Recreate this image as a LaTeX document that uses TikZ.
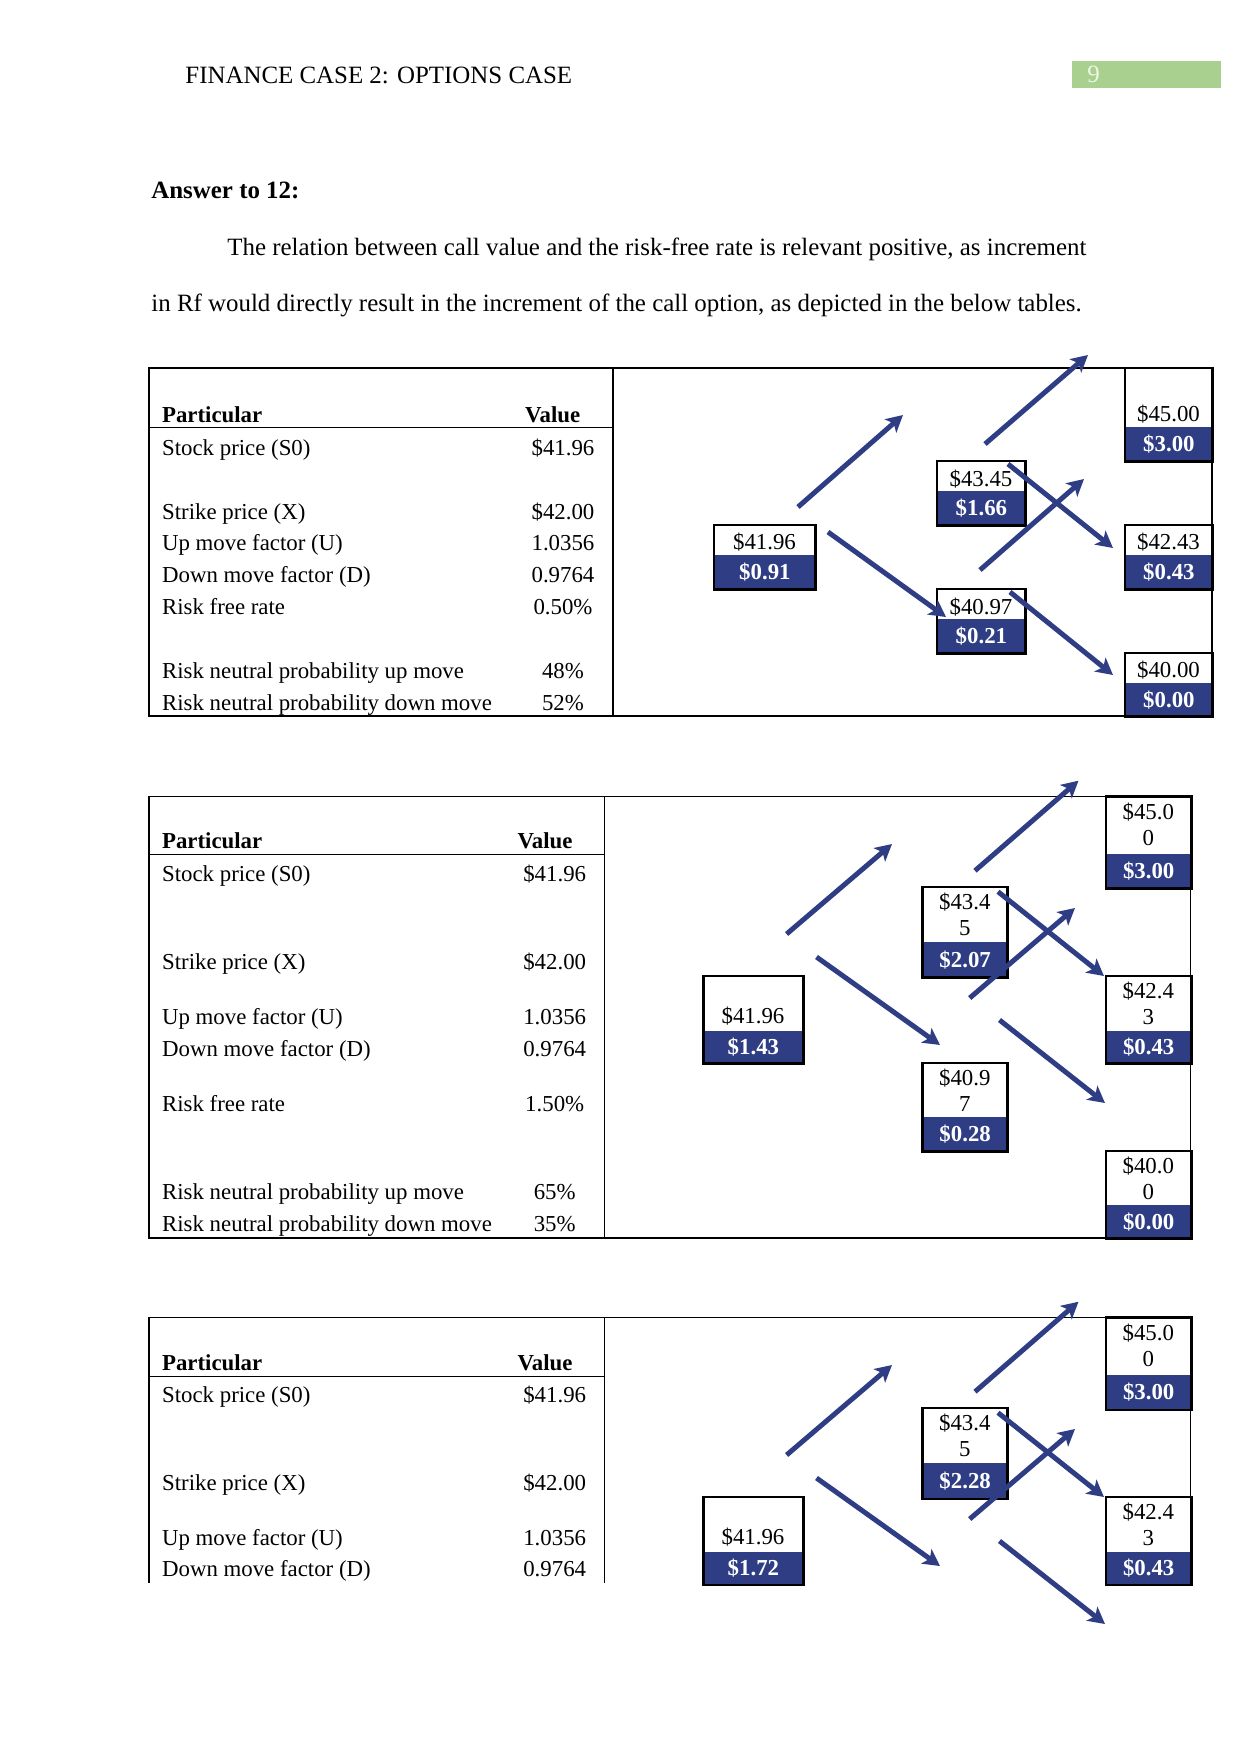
\documentclass[tikz,border=0pt]{standalone}
\usepackage{fontspec}
\setmainfont{Liberation Serif}
\usepackage{tikz}
\usetikzlibrary{arrows.meta}
\definecolor{navy}{HTML}{2F3E84}
\definecolor{pagegreen}{HTML}{A9D08E}
\definecolor{pagenum}{HTML}{EEF7E6}
\tikzset{
  bodytext/.style={font=\fontsize{12}{14}\selectfont, anchor=base west, inner sep=0pt},
  celltext/.style={font=\fontsize{11}{13}\selectfont, anchor=base west, inner sep=0pt},
  cellval/.style={font=\fontsize{11}{13}\selectfont, anchor=base, inner sep=0pt},
  headtext/.style={font=\bfseries\fontsize{11}{13}\selectfont, inner sep=0pt},
  tblline/.style={draw=black, line width=0.7pt},
  boxline/.style={draw=black, line width=1.3pt},
  price/.style={font=\fontsize{11}{12.5}\selectfont, align=center, inner sep=0pt},
  payoff/.style={fill=navy, text=white, font=\bfseries\fontsize{11}{13}\selectfont, inner sep=0pt, anchor=north west},
  move/.style={draw=navy, line width=2.4pt, -{Stealth[length=8pt,width=8.5pt,inset=2pt]}}
}

\begin{document}
\begin{tikzpicture}[x=0.16933mm, y=-0.16933mm]
\useasboundingbox (0,0) rectangle (1241,1754);
% ---- page head and text ----
\node[bodytext] (title) at (185,83) {FINANCE CASE 2: OPTIONS CASE};
\fill[pagegreen] (1072,61) rectangle (1221,88);
\node[bodytext, text=pagenum] (pageno) at (1087,82) {9};
\node[bodytext, font=\bfseries\fontsize{12}{14}\selectfont] (answer) at (151,198.3) {Answer to 12:};
\node[bodytext] (para1) at (227,255) {The relation between call value and the risk-free rate is relevant positive, as increment};
\node[bodytext] (para2) at (151,311.7) {in Rf would directly result in the increment of the call option, as depicted in the below tables.};

% ---- table 1: Rf 0.50% ----
\draw[tblline] (149,368) rectangle (1212,716);
\draw[tblline] (613,368) -- (613,716);
\draw[tblline] (149,427.7) -- (613,427.7);
\node[headtext, anchor=base west] (t1h1) at (161.7,422) {Particular};
\node[headtext, anchor=base] (t1h2) at (552.7,422) {Value};
\node[celltext] (t1r1) at (161.7,455.7) {Stock price (S0)};
\node[cellval] (t1v1) at (563,455.7) {\$41.96};
\node[celltext] (t1r2) at (161.7,519) {Strike price (X)};
\node[cellval] (t1v2) at (563,519) {\$42.00};
\node[celltext] (t1r3) at (161.7,550.7) {Up move factor (U)};
\node[cellval] (t1v3) at (563,550.7) {1.0356};
\node[celltext] (t1r4) at (161.7,582.7) {Down move factor (D)};
\node[cellval] (t1v4) at (563,582.7) {0.9764};
\node[celltext] (t1r5) at (161.7,614.3) {Risk free rate};
\node[cellval] (t1v5) at (563,614.3) {0.50\%};
\node[celltext] (t1r6) at (161.7,678.3) {Risk neutral probability up move};
\node[cellval] (t1v6) at (563,678.3) {48\%};
\node[celltext] (t1r7) at (161.7,710.7) {Risk neutral probability down move};
\node[cellval] (t1v7) at (563,710.7) {52\%};
% tree 1
\node[price, anchor=base] (a1p) at (764.5,549.5) {\$41.96};
\node[payoff, minimum width=101*0.16933mm, minimum height=34*0.16933mm] (a1v) at (714,555) {\$0.91};
\draw[boxline] (714,525) rectangle (a1v.south east);
\node[price, anchor=base] (b1p) at (981,486) {\$43.45};
\node[payoff, minimum width=88*0.16933mm, minimum height=34*0.16933mm] (b1v) at (937,491) {\$1.66};
\draw[boxline] (937,461) rectangle (b1v.south east);
\node[price, anchor=base] (c1p) at (981,614) {\$40.97};
\node[payoff, minimum width=88*0.16933mm, minimum height=34*0.16933mm] (c1v) at (937,619) {\$0.21};
\draw[boxline] (937,589) rectangle (c1v.south east);
\node[price, anchor=base] (d1p) at (1168.5,421) {\$45.00};
\node[payoff, minimum width=87*0.16933mm, minimum height=34*0.16933mm] (d1v) at (1125,427) {\$3.00};
\draw[boxline] (1125,368) rectangle (d1v.south east);
\node[price, anchor=base] (e1p) at (1168.5,549.5) {\$42.43};
\node[payoff, minimum width=87*0.16933mm, minimum height=34*0.16933mm] (e1v) at (1125,555) {\$0.43};
\draw[boxline] (1125,525) rectangle (e1v.south east);
\node[price, anchor=base] (f1p) at (1168.5,677.5) {\$40.00};
\node[payoff, minimum width=87*0.16933mm, minimum height=33*0.16933mm] (f1v) at (1125,683) {\$0.00};
\draw[boxline] (1125,653) rectangle (f1v.south east);
\coordinate (a1u0) at (798,507); \coordinate (a1u1) at (903,415);
\coordinate (a1d0) at (828,532); \coordinate (a1d1) at (946,617);
\coordinate (b1u0) at (985,444); \coordinate (b1u1) at (1088,355);
\coordinate (b1d0) at (1008,464); \coordinate (b1d1) at (1113,548);
\coordinate (c1u0) at (980,570); \coordinate (c1u1) at (1084,479);
\coordinate (c1d0) at (1010,592); \coordinate (c1d1) at (1113,675);
\draw[move] (a1u0) -- (a1u1);
\draw[move] (a1d0) -- (a1d1);
\draw[move] (b1u0) -- (b1u1);
\draw[move] (b1d0) -- (b1d1);
\draw[move] (c1u0) -- (c1u1);
\draw[move] (c1d0) -- (c1d1);

% ---- table 2: Rf 1.50% ----
\draw[tblline] (149,796.7) rectangle (1190.6,1238);
\draw[tblline] (604.3,796.7) -- (604.3,1238);
\draw[tblline] (149,854.7) -- (604.3,854.7);
\node[headtext, anchor=base west] (t2h1) at (161.7,848.3) {Particular};
\node[headtext, anchor=base] (t2h2) at (545,848.3) {Value};
\node[celltext] (t2r1) at (161.7,881.7) {Stock price (S0)};
\node[cellval] (t2v1) at (554.7,881.7) {\$41.96};
\node[celltext] (t2r2) at (161.7,969) {Strike price (X)};
\node[cellval] (t2v2) at (554.7,969) {\$42.00};
\node[celltext] (t2r3) at (161.7,1024) {Up move factor (U)};
\node[cellval] (t2v3) at (554.7,1024) {1.0356};
\node[celltext] (t2r4) at (161.7,1056.7) {Down move factor (D)};
\node[cellval] (t2v4) at (554.7,1056.7) {0.9764};
\node[celltext] (t2r5) at (161.7,1111.7) {Risk free rate};
\node[cellval] (t2v5) at (554.7,1111.7) {1.50\%};
\node[celltext] (t2r6) at (161.7,1199) {Risk neutral probability up move};
\node[cellval] (t2v6) at (554.7,1199) {65\%};
\node[celltext] (t2r7) at (161.7,1231.7) {Risk neutral probability down move};
\node[cellval] (t2v7) at (554.7,1231.7) {35\%};
% tree 2
\node[price, anchor=base] (a2p) at (753,1023) {\$41.96};
\node[payoff, minimum width=99*0.16933mm, minimum height=32*0.16933mm] (a2v) at (703.5,1031) {\$1.43};
\draw[boxline] (703.5,976) rectangle (a2v.south east);
\node[price] (b2p) at (964.8,914.5) {\$43.4\\5};
\node[payoff, minimum width=84.5*0.16933mm, minimum height=35*0.16933mm] (b2v) at (922.5,942) {\$2.07};
\draw[boxline] (922.5,887) rectangle (b2v.south east);
\node[price] (c2p) at (964.8,1090.5) {\$40.9\\7};
\node[payoff, minimum width=84.5*0.16933mm, minimum height=34*0.16933mm] (c2v) at (922.5,1117) {\$0.28};
\draw[boxline] (922.5,1063) rectangle (c2v.south east);
\node[price] (d2p) at (1148.3,824.5) {\$45.0\\0};
\node[payoff, minimum width=84.6*0.16933mm, minimum height=34*0.16933mm] (d2v) at (1106,854) {\$3.00};
\draw[boxline] (1106,796.7) rectangle (d2v.south east);
\node[price] (e2p) at (1148.3,1003.5) {\$42.4\\3};
\node[payoff, minimum width=84.6*0.16933mm, minimum height=32*0.16933mm] (e2v) at (1106,1031) {\$0.43};
\draw[boxline] (1106,976) rectangle (e2v.south east);
\node[price] (f2p) at (1148.3,1178.5) {\$40.0\\0};
\node[payoff, minimum width=84.6*0.16933mm, minimum height=33*0.16933mm] (f2v) at (1106,1205) {\$0.00};
\draw[boxline] (1106,1151) rectangle (f2v.south east);
\coordinate (a2u0) at (786.6,934); \coordinate (a2u1) at (892,844);
\coordinate (a2d0) at (816.5,957); \coordinate (a2d1) at (940,1045);
\coordinate (b2u0) at (975,870.7); \coordinate (b2u1) at (1078.5,780.7);
\coordinate (b2d0) at (998,891.7); \coordinate (b2d1) at (1104,976);
\coordinate (c2u0) at (969.7,998); \coordinate (c2u1) at (1075,908);
\coordinate (c2d0) at (999.5,1020); \coordinate (c2d1) at (1105,1103);
\draw[move] (a2u0) -- (a2u1);
\draw[move] (a2d0) -- (a2d1);
\draw[move] (b2u0) -- (b2u1);
\draw[move] (b2d0) -- (b2d1);
\draw[move] (c2u0) -- (c2u1);
\draw[move] (c2d0) -- (c2d1);

% ---- table 3: cut at page end ----
\draw[tblline] (149,1583) -- (149,1317.5) -- (1190.6,1317.5) -- (1190.6,1584);
\draw[tblline] (604.3,1317.5) -- (604.3,1583);
\draw[tblline] (149,1376.3) -- (604.3,1376.3);
\node[headtext, anchor=base west] (t3h1) at (161.7,1370) {Particular};
\node[headtext, anchor=base] (t3h2) at (545,1370) {Value};
\node[celltext] (t3r1) at (161.7,1402.7) {Stock price (S0)};
\node[cellval] (t3v1) at (554.7,1402.7) {\$41.96};
\node[celltext] (t3r2) at (161.7,1490.7) {Strike price (X)};
\node[cellval] (t3v2) at (554.7,1490.7) {\$42.00};
\node[celltext] (t3r3) at (161.7,1545) {Up move factor (U)};
\node[cellval] (t3v3) at (554.7,1545) {1.0356};
\node[celltext] (t3r4) at (161.7,1576.7) {Down move factor (D)};
\node[cellval] (t3v4) at (554.7,1576.7) {0.9764};
% tree 3
\node[price, anchor=base] (a3p) at (753,1544) {\$41.96};
\node[payoff, minimum width=99*0.16933mm, minimum height=32*0.16933mm] (a3v) at (703.5,1552) {\$1.72};
\draw[boxline] (703.5,1497) rectangle (a3v.south east);
\node[price] (b3p) at (964.8,1435.5) {\$43.4\\5};
\node[payoff, minimum width=84.5*0.16933mm, minimum height=35*0.16933mm] (b3v) at (922.5,1463) {\$2.28};
\draw[boxline] (922.5,1408) rectangle (b3v.south east);
\node[price] (d3p) at (1148.3,1345) {\$45.0\\0};
\node[payoff, minimum width=84.6*0.16933mm, minimum height=34*0.16933mm] (d3v) at (1106,1375) {\$3.00};
\draw[boxline] (1106,1317.5) rectangle (d3v.south east);
\node[price] (e3p) at (1148.3,1524.5) {\$42.4\\3};
\node[payoff, minimum width=84.6*0.16933mm, minimum height=32*0.16933mm] (e3v) at (1106,1552) {\$0.43};
\draw[boxline] (1106,1497) rectangle (e3v.south east);
\coordinate (a3u0) at (786.6,1455); \coordinate (a3u1) at (892,1365);
\coordinate (a3d0) at (816.5,1478); \coordinate (a3d1) at (940,1566);
\coordinate (b3u0) at (975,1391.7); \coordinate (b3u1) at (1078.5,1301.7);
\coordinate (b3d0) at (998,1412.7); \coordinate (b3d1) at (1104,1497);
\coordinate (c3u0) at (969.7,1519); \coordinate (c3u1) at (1075,1429);
\coordinate (c3d0) at (999.5,1541); \coordinate (c3d1) at (1105,1624);
\draw[move] (a3u0) -- (a3u1);
\draw[move] (a3d0) -- (a3d1);
\draw[move] (b3u0) -- (b3u1);
\draw[move] (b3d0) -- (b3d1);
\draw[move] (c3u0) -- (c3u1);
\draw[move] (c3d0) -- (c3d1);
\end{tikzpicture}
\end{document}
